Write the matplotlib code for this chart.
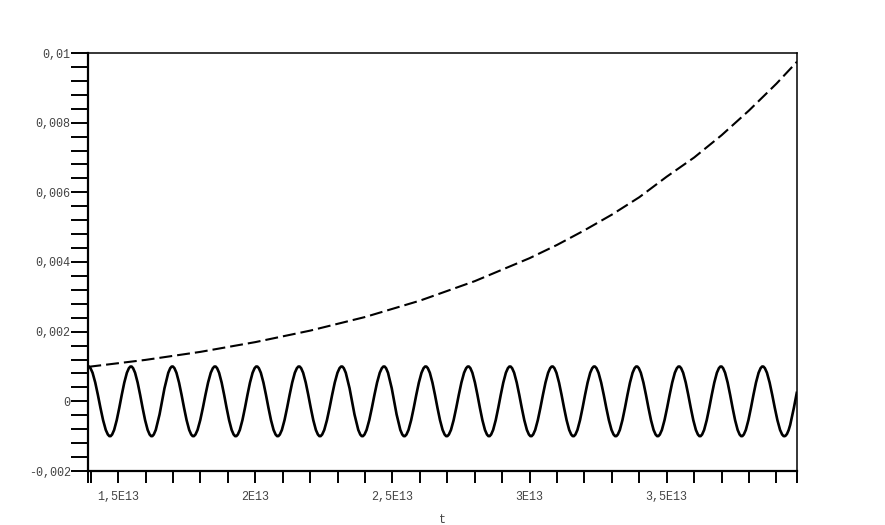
import numpy as np
import matplotlib
matplotlib.use("Agg")
import matplotlib.pyplot as plt
from matplotlib.path import Path
from matplotlib.patches import PathPatch
from matplotlib.ticker import FixedLocator, FixedFormatter

# ---- data ----
t_min, t_max = 1.3912e13, 3.9749e13

# dashed growing curve
growth_t = np.array([1.3912, 1.6, 1.8, 2.0, 2.2, 2.4, 2.6, 2.8, 3.0, 3.1, 3.2,
                     3.3, 3.4, 3.5, 3.6, 3.7, 3.8, 3.9, 3.9749]) * 1e13
growth_v = np.array([0.99, 1.19, 1.42, 1.70, 2.03, 2.42, 2.89, 3.45, 4.11, 4.49,
                     4.91, 5.36, 5.86, 6.45, 7.00, 7.64, 8.35, 9.12, 9.75]) * 1e-3

# oscillation: successive extrema (peak, trough, peak, ...)
osc_t = np.array([1.3912, 1.4704, 1.5469, 1.6224, 1.6975, 1.7740, 1.8532, 1.9286,
                  2.0052, 2.0817, 2.1594, 2.2359, 2.3151, 2.3902, 2.4693, 2.5433,
                  2.6213, 2.6979, 2.7766, 2.8521, 2.9286, 3.0052, 3.0828, 3.1594,
                  3.2360, 3.3140, 3.3905, 3.4671, 3.5448, 3.6213, 3.6979, 3.7733,
                  3.8499, 3.9286]) * 1e13
osc_v = np.array([1.0, -1.0] * 17) * 1e-3
osc_end_t = 3.9749e13
osc_end_v = 0.28e-3

y_major = [-0.002, 0.0, 0.002, 0.004, 0.006, 0.008, 0.01]
y_labels = ["-0,002", "0", "0,002", "0,004", "0,006", "0,008", "0,01"]
x_major = [1.5e13, 2.0e13, 2.5e13, 3.0e13, 3.5e13]
x_labels = ["1,5E13", "2E13", "2,5E13", "3E13", "3,5E13"]

# ---- figure ----
fig = plt.figure(figsize=(8.85, 5.25), dpi=100)
ax = fig.add_axes([88.3 / 885, 1 - 471 / 525, (797 - 88.3) / 885, (471 - 53) / 525])

ax.set_xlim(t_min, t_max)
ax.set_ylim(-0.002, 0.01)

# dashed curve
ax.plot(growth_t, growth_v, color="black", lw=1.5, dashes=(6.2, 2.4),
        solid_capstyle="butt", dash_capstyle="butt")

# oscillation as smooth cubic segments between extrema
a = (np.pi - 2) / np.pi
verts = [(osc_t[0], osc_v[0])]
codes = [Path.MOVETO]
for i in range(len(osc_t) - 1):
    t0, v0, t1, v1 = osc_t[i], osc_v[i], osc_t[i + 1], osc_v[i + 1]
    dt = t1 - t0
    verts += [(t0 + a * dt, v0), (t1 - a * dt, v1), (t1, v1)]
    codes += [Path.CURVE4] * 3
half = np.mean(np.diff(osc_t))
t0, v0 = osc_t[-1], osc_v[-1]
dt = osc_end_t - t0
slope = 0.95 * 1e-3 * np.pi / half
verts += [(t0 + 0.4 * dt, v0), (osc_end_t - dt / 3, osc_end_v - slope * dt / 3),
          (osc_end_t, osc_end_v)]
codes += [Path.CURVE4] * 3
ax.add_patch(PathPatch(Path(verts, codes), fill=False, edgecolor="black", lw=1.9,
                       transform=ax.transData))

# spines
for s in ("left", "bottom"):
    ax.spines[s].set_linewidth(1.6)
for s in ("top", "right"):
    ax.spines[s].set_linewidth(1.1)

# ticks
ax.yaxis.set_major_locator(FixedLocator(y_major))
ax.yaxis.set_major_formatter(FixedFormatter(y_labels))
ax.yaxis.set_minor_locator(FixedLocator(np.arange(-0.002, 0.01001, 0.0004)))
ax.xaxis.set_major_locator(FixedLocator(x_major))
ax.xaxis.set_major_formatter(FixedFormatter(x_labels))
ax.xaxis.set_minor_locator(FixedLocator(list(np.arange(1.4e13, 3.95e13, 1e12)) + [t_min, t_max]))

ax.tick_params(axis="y", which="both", direction="out", length=12.2, width=1.4,
               pad=0.5, left=True, right=False, labelsize=8.5, labelcolor="#444444")
ax.tick_params(axis="x", which="both", direction="out", length=8.5, width=1.4,
               pad=6, bottom=True, top=False, labelsize=8.5, labelcolor="#444444")
for lab in ax.get_xticklabels() + ax.get_yticklabels():
    lab.set_fontfamily("Liberation Mono")

ax.set_xlabel("t", fontfamily="Liberation Mono", fontsize=8.5, color="#444444", labelpad=7.5)

fig.savefig("out.png", dpi=100)
